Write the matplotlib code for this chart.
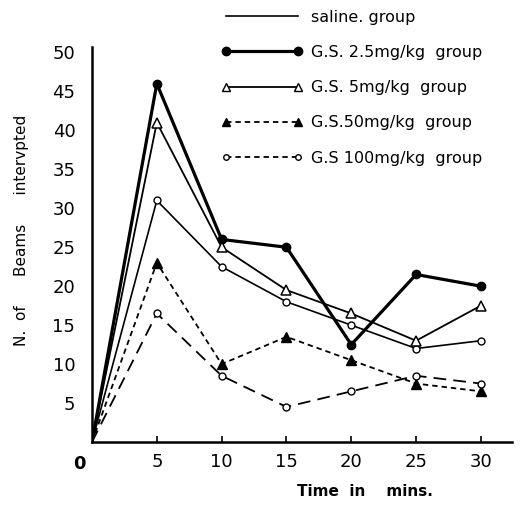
import matplotlib
matplotlib.use("Agg")
import matplotlib.pyplot as plt
from matplotlib.lines import Line2D

plt.rcParams['font.family'] = ['DejaVu Sans']

time = [0, 5, 10, 15, 20, 25, 30]
saline = [0, 31, 22.5, 18, 15, 12, 13]
gs_2_5 = [0, 46, 26, 25, 12.5, 21.5, 20]
gs_5 = [0, 41, 25, 19.5, 16.5, 13, 17.5]
gs_50 = [0, 23, 10, 13.5, 10.5, 7.5, 6.5]
gs_100 = [0, 16.5, 8.5, 4.5, 6.5, 8.5, 7.5]

labels = ["saline. group", "G.S. 2.5mg/kg  group", "G.S. 5mg/kg  group",
          "G.S.50mg/kg  group", "G.S 100mg/kg  group"]
xticks = [5, 10, 15, 20, 25, 30]
yticks = [5, 10, 15, 20, 25, 30, 35, 40, 45, 50]

fig = plt.figure(figsize=(5.25, 5.05), dpi=100)
ax = fig.add_axes([92/525, 1-442/505, (512-92)/525, (442-47)/505])

every = list(range(1, 7))
ax.plot(time, saline, color='black', lw=1.2, marker='o', ms=5, mfc='white',
        mec='black', mew=1.0, markevery=every)
ax.plot(time, gs_2_5, color='black', lw=2.3, marker='o', ms=6, mfc='black',
        markevery=every)
ax.plot(time, gs_5, color='black', lw=1.3, marker='^', ms=7, mfc='white',
        mec='black', mew=1.1, markevery=every)
ax.plot(time, gs_50, color='black', lw=1.3, ls=(0, (3, 2.2)), marker='^', ms=7,
        mfc='black', markevery=every)
ax.plot(time, gs_100, color='black', lw=1.3, ls=(0, (7, 4)), marker='o', ms=5,
        mfc='white', mec='black', mew=1.0, markevery=every)

ax.set_xlim(0, 32.4)
ax.set_ylim(0, 50.7)
ax.spines['top'].set_visible(False)
ax.spines['right'].set_visible(False)
ax.spines['left'].set_linewidth(1.8)
ax.spines['bottom'].set_linewidth(1.8)
ax.set_xticks(xticks)
ax.set_xticklabels([str(v) for v in xticks], fontsize=13)
ax.set_yticks(yticks)
ax.set_yticklabels([str(v) for v in yticks], fontsize=13)
ax.tick_params(axis='x', direction='in', length=4, width=1.2, pad=8)
ax.tick_params(axis='y', direction='in', length=0, pad=12)
ax.annotate("0", xy=(0, 0), xytext=(-9, -16), textcoords='offset points',
            fontsize=13, fontweight='bold', ha='center', va='center')

handles = [
    Line2D([], [], color='black', lw=1.2),
    Line2D([], [], color='black', lw=2.3, marker='o', ms=6, mfc='black'),
    Line2D([], [], color='black', lw=1.3, marker='^', ms=6, mfc='white', mec='black'),
    Line2D([], [], color='black', lw=1.3, ls=(0, (3, 2.2)), marker='^', ms=6, mfc='black'),
    Line2D([], [], color='black', lw=1.3, ls=(0, (3, 2.2)), marker='o', ms=4, mfc='white', mec='black'),
]
fig.legend(handles, labels, loc='upper left', bbox_to_anchor=(212/525, 1-0/505),
           frameon=False, fontsize=11.5, handlelength=5.1, labelspacing=1.27,
           handletextpad=0.5, numpoints=2, borderpad=0.1)

fig.text(22/525, 1-230/505, "N.  of      Beams      intervpted", rotation=90,
         ha='center', va='center', fontsize=11)
fig.text(365/525, 1-492/505, "Time  in    mins.", ha='center', va='center',
         fontsize=11, fontweight='bold')

fig.savefig("out.png", dpi=100)
